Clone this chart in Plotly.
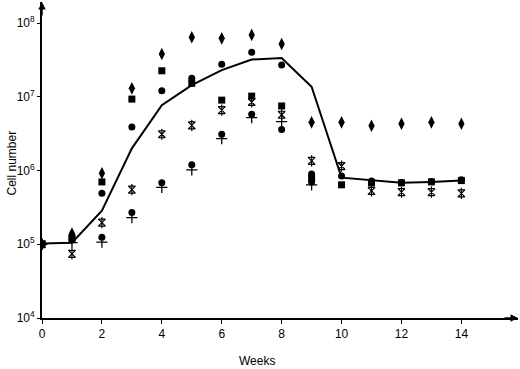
import plotly.graph_objects as go

weeks = list(range(15))
x_ticks = [0, 2, 4, 6, 8, 10, 12, 14]
y_ticks = [1e4, 1e5, 1e6, 1e7, 1e8]
y_ticktext = ["10<sup>4</sup>", "10<sup>5</sup>", "10<sup>6</sup>", "10<sup>7</sup>", "10<sup>8</sup>"]

diamond = [1.0e5, 1.4e5, 9.2e5, 1.30e7, 3.8e7, 6.4e7, 6.2e7, 6.9e7, 5.2e7, 4.5e6, 4.5e6, 4.05e6, 4.3e6, 4.5e6, 4.3e6]
square = [1.0e5, 1.2e5, 7.0e5, 9.3e6, 2.25e7, 1.52e7, 9.0e6, 1.02e7, 7.5e6, 7.9e5, 6.4e5, 6.8e5, 6.8e5, 7.0e5, 7.3e5]
circle_hi = [1.0e5, 1.3e5, 4.9e5, 3.9e6, 1.21e7, 1.78e7, 2.75e7, 4.0e7, 2.7e7, 9.0e5, 8.4e5, 7.2e5, 6.9e5, 7.1e5, 7.5e5]
star = [1.0e5, 7.4e4, 1.96e5, 5.5e5, 3.1e6, 4.1e6, 6.6e6, 8.5e6, 5.7e6, 1.35e6, 1.15e6, 5.3e5, 5.1e5, 5.1e5, 4.9e5]
circle_lo = [1.0e5, 1.15e5, 1.24e5, 2.7e5, 6.8e5, 1.2e6, 3.1e6, 5.8e6, 3.6e6, 7.0e5, None, None, None, None, None]
plus = [1.0e5, 1.05e5, 1.07e5, 2.3e5, 5.9e5, 1.02e6, 2.7e6, 5.2e6, 4.6e6, 6.4e5, None, None, None, None, None]
mean = [1.02e5, 1.05e5, 2.85e5, 2.0e6, 7.7e6, 1.44e7, 2.3e7, 3.2e7, 3.35e7, 1.37e7, 8.0e5, 7.3e5, 6.8e5, 7.0e5, 7.3e5]

fig = go.Figure()

def pts(y, symbol, size, lw=0):
    fig.add_trace(go.Scatter(
        x=weeks, y=y, mode="markers", showlegend=False,
        marker=dict(symbol=symbol, size=size, color="black",
                    line=dict(color="black", width=lw)),
    ))

pts(plus, "cross-thin-open", 8, 1.3)
pts(circle_lo, "circle", 7)
pts(star, "hourglass-open", 7, 1.2)
pts(star, "line-ns-open", 8, 1.2)
pts(circle_hi, "circle", 7)
pts(square, "square", 7)
pts(diamond, "diamond-tall", 9)

fig.add_trace(go.Scatter(x=weeks, y=mean, mode="lines", showlegend=False,
                         line=dict(color="black", width=2)))

font = dict(family="Liberation Sans, Arial, sans-serif", size=12, color="black")

fig.update_layout(
    width=520, height=369,
    margin=dict(l=42, r=2, t=2, b=51),
    paper_bgcolor="white", plot_bgcolor="white",
    font=font,
    hovermode=False,
    xaxis=dict(range=[0, 15.89], tickvals=x_ticks, ticks="outside", ticklen=4,
               tickwidth=1.2, tickcolor="black", showline=True, linecolor="black",
               linewidth=1.8, showgrid=False, zeroline=False, tickfont=font),
    yaxis=dict(type="log", range=[4, 8.285], tickvals=y_ticks, ticktext=y_ticktext,
               ticks="outside", ticklen=3, tickwidth=1.2, tickcolor="black",
               showline=True, linecolor="black", linewidth=1.8, showgrid=False,
               zeroline=False, tickfont=font),
    annotations=[
        dict(text="Weeks", xref="paper", yref="paper", x=(257 - 42) / 476, y=-0.135,
             showarrow=False, font=font, xanchor="center", yanchor="middle"),
        dict(text="Cell number", xref="paper", yref="paper", x=-0.064, y=(318 - 163) / 316,
             showarrow=False, font=font, textangle=-90, xanchor="center", yanchor="middle"),
        dict(xref="paper", yref="paper", x=1, y=0, ax=-15, ay=0, showarrow=True,
             arrowhead=2, arrowsize=1, arrowwidth=1.5, arrowcolor="black", text=""),
        dict(xref="paper", yref="paper", x=0, y=1, ax=0, ay=15, showarrow=True,
             arrowhead=2, arrowsize=1, arrowwidth=1.5, arrowcolor="black", text=""),
    ],
)

fig.write_html("out.html", config={"displayModeBar": False},
               post_script="document.body.style.margin='0px';document.body.style.overflow='hidden';")
